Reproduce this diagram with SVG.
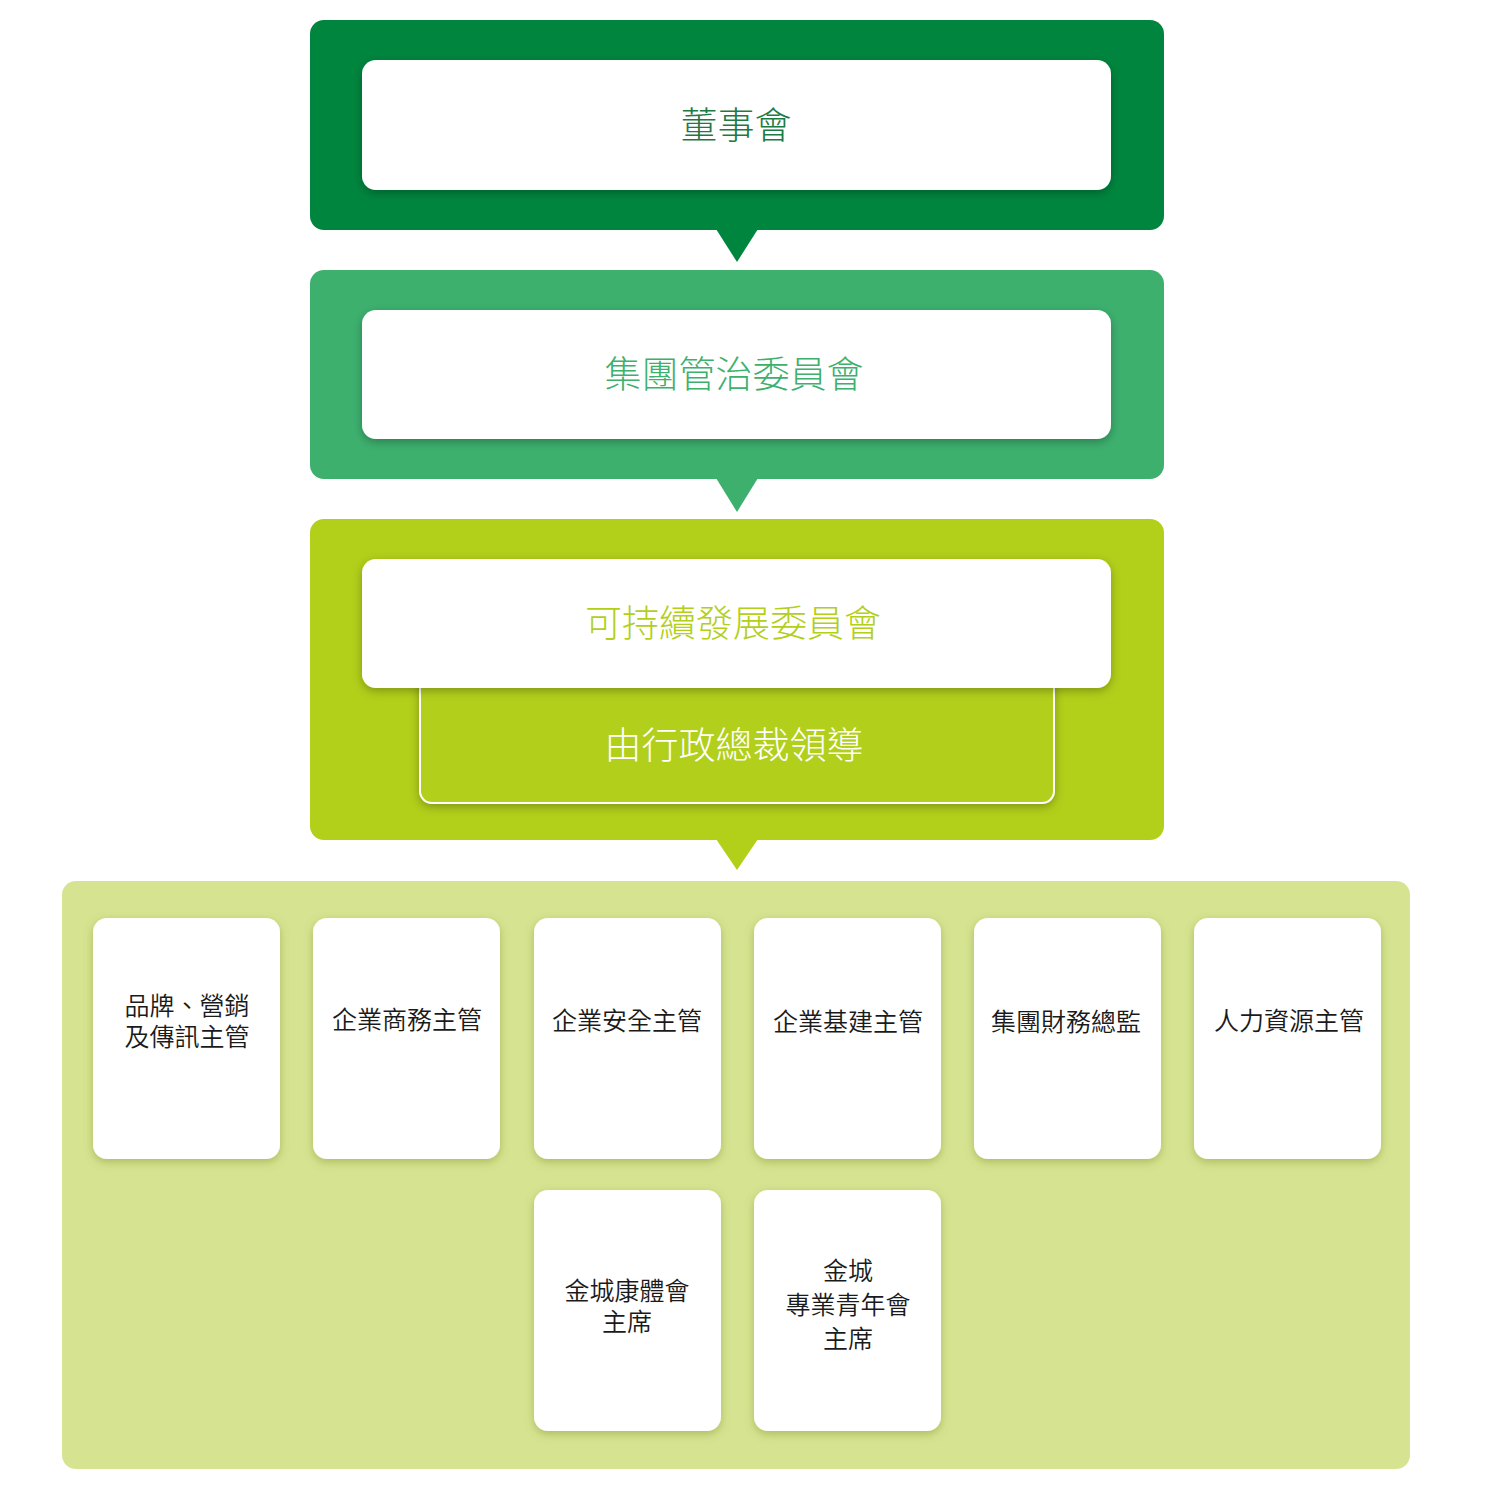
<svg xmlns="http://www.w3.org/2000/svg" width="1485" height="1500" viewBox="0 0 1485 1500">
<style>
.t{font-family:"Noto Sans CJK TC","Noto Sans CJK SC",sans-serif;text-anchor:middle;dominant-baseline:central}
.title{font-size:37px;font-weight:300}
.card-t{font-size:25px;fill:#1a1a1a;font-weight:350}
.inner{fill:#ffffff}
.card{fill:#ffffff}
</style>
<defs>
<filter id="sh" x="-10%" y="-20%" width="120%" height="150%">
<feDropShadow dx="0" dy="3" stdDeviation="5" flood-color="#000" flood-opacity="0.28"/>
</filter>
<filter id="shc" x="-20%" y="-15%" width="140%" height="130%">
<feDropShadow dx="0" dy="3" stdDeviation="5" flood-color="#5a6a10" flood-opacity="0.35"/>
</filter>
</defs>
<rect width="1485" height="1500" fill="#ffffff"/>
<g id="connectors">
<polygon points="716,229 758,229 737,262" fill="#00853E"/>
<polygon points="716,478 758,478 737,512" fill="#3DB06E"/>
<polygon points="716,839 758,839 737,870" fill="#B2CF1A"/>
</g>
<g id="board">
<rect x="310" y="20" width="854" height="210" rx="14" fill="#00853E"/>
<rect class="inner" x="362" y="60" width="749" height="130" rx="14" filter="url(#sh)"/>
<text class="t title" x="736" y="123" fill="#1C7A43">董事會</text>
</g>
<g id="governance">
<rect x="310" y="270" width="854" height="209" rx="14" fill="#3DB06E"/>
<rect class="inner" x="362" y="310" width="749" height="129" rx="14" filter="url(#sh)"/>
<text class="t title" x="734" y="372" fill="#3DB06E">集團管治委員會</text>
</g>
<g id="sustainability">
<rect x="310" y="519" width="854" height="321" rx="14" fill="#B2CF1A"/>
<rect x="420" y="670" width="634" height="133" rx="12" fill="#B2CF1A" stroke="#ffffff" stroke-width="2" filter="url(#sh)"/>
<rect class="inner" x="362" y="559" width="749" height="129" rx="14" filter="url(#sh)"/>
<text class="t title" x="733" y="621" fill="#B2CF1A">可持續發展委員會</text>
<text class="t title" x="734" y="743" fill="#ffffff">由行政總裁領導</text>
</g>
<g id="panel">
<rect x="62" y="881" width="1348" height="588" rx="14" fill="#D6E491"/>
</g>
<g id="card1">
<rect class="card" x="93" y="918" width="187" height="241" rx="14" filter="url(#shc)"/>
<text class="t card-t" x="187" y="1004">品牌、營銷</text>
<text class="t card-t" x="187" y="1035">及傳訊主管</text>
</g>
<g id="card2">
<rect class="card" x="313" y="918" width="187" height="241" rx="14" filter="url(#shc)"/>
<text class="t card-t" x="407" y="1018">企業商務主管</text>
</g>
<g id="card3">
<rect class="card" x="534" y="918" width="187" height="241" rx="14" filter="url(#shc)"/>
<text class="t card-t" x="627" y="1019">企業安全主管</text>
</g>
<g id="card4">
<rect class="card" x="754" y="918" width="187" height="241" rx="14" filter="url(#shc)"/>
<text class="t card-t" x="848" y="1020">企業基建主管</text>
</g>
<g id="card5">
<rect class="card" x="974" y="918" width="187" height="241" rx="14" filter="url(#shc)"/>
<text class="t card-t" x="1066" y="1020">集團財務總監</text>
</g>
<g id="card6">
<rect class="card" x="1194" y="918" width="187" height="241" rx="14" filter="url(#shc)"/>
<text class="t card-t" x="1289" y="1019">人力資源主管</text>
</g>
<g id="card7">
<rect class="card" x="534" y="1190" width="187" height="241" rx="14" filter="url(#shc)"/>
<text class="t card-t" x="627" y="1289">金城康體會</text>
<text class="t card-t" x="627" y="1320">主席</text>
</g>
<g id="card8">
<rect class="card" x="754" y="1190" width="187" height="241" rx="14" filter="url(#shc)"/>
<text class="t card-t" x="848" y="1269">金城</text>
<text class="t card-t" x="848" y="1303">專業青年會</text>
<text class="t card-t" x="848" y="1337">主席</text>
</g>
</svg>
